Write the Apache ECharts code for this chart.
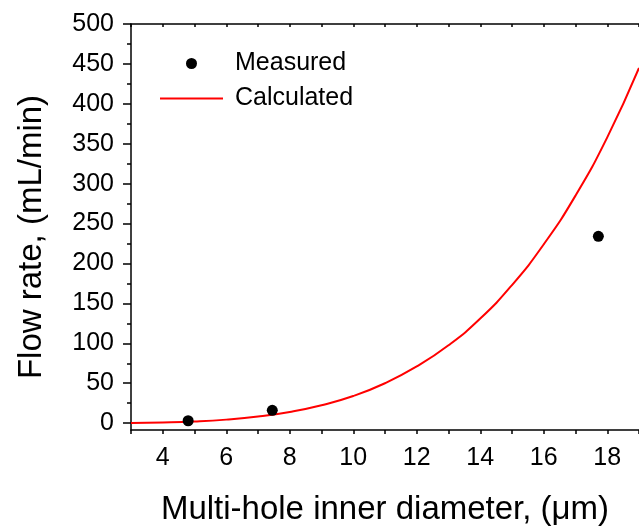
<!DOCTYPE html>
<html lang="en">
  <head>
    <meta charset="utf-8">
    <title>Flow rate vs diameter</title>
    <style>
      html, body { margin: 0; padding: 0; background: #fff; }
      #main { width: 639px; height: 531px; }
    </style>
  </head>
  <body>
    <div id="main"></div>
    <script src="https://cdn.jsdelivr.net/npm/echarts@6/dist/echarts.min.js"></script>
    <script>
      // measured points (diameter um, flow mL/min)
      var measuredX = [4.8, 7.45, 17.72];
      var measuredY = [3, 16, 234];

      // calculated curve
      var calcX = [3, 4, 5, 6, 7, 8, 9, 10, 11, 12, 13, 14, 15, 16, 17, 18, 19];
      var calcY = [0.3, 0.9, 2.1, 4.4, 8.2, 14, 22.4, 34, 50, 71, 97.5, 131, 173, 224, 285, 358, 445];

      var xLabels = [4, 6, 8, 10, 12, 14, 16, 18];
      var xTicks = [3, 4, 5, 6, 7, 8, 9, 10, 11, 12, 13, 14, 15, 16, 17, 18, 19];
      var yLabels = [0, 50, 100, 150, 200, 250, 300, 350, 400, 450, 500];
      var yMinor = [25, 75, 125, 175, 225, 275, 325, 375, 425, 475];

      var font = 'Liberation Sans, Arial, sans-serif';

      function zip(a, b) {
        return a.map(function (v, i) { return [v, b[i]]; });
      }

      var myChart = echarts.init(document.getElementById('main'));

      var option = {
        backgroundColor: '#fff',
        animation: false,
        textStyle: { fontFamily: font, color: '#000' },
        grid: { left: 131, right: 0, top: 24, bottom: 94, containLabel: false },
        legend: {
          orient: 'vertical',
          left: 160,
          top: 51,
          padding: 0,
          itemWidth: 63,
          itemHeight: 11,
          itemGap: 10,
          textStyle: { fontSize: 25, color: '#000', fontFamily: font, padding: [0, 0, 0, 7] },
          data: [
            { name: 'Measured', icon: 'circle' },
            { name: 'Calculated', icon: 'path://M0,0L63,0L63,2L0,2Z' }
          ]
        },
        xAxis: [{
          type: 'value',
          position: 'bottom',
          min: 3,
          max: 19,
          name: 'Multi-hole inner diameter, (\u03bcm)',
          nameLocation: 'middle',
          nameGap: 63,
          nameTextStyle: { fontSize: 33, color: '#000', fontFamily: font },
          axisLine: { show: true, onZero: false, lineStyle: { color: '#000', width: 1.5 } },
          axisTick: { show: true, length: 4, customValues: xTicks, lineStyle: { color: '#000', width: 1.5 } },
          axisLabel: { customValues: xLabels, fontSize: 25, color: '#000', margin: 16, fontFamily: font },
          splitLine: { show: false }
        }, {
          type: 'value',
          position: 'top',
          min: 3,
          max: 19,
          axisLine: { show: true, onZero: false, lineStyle: { color: '#000', width: 1.5 } },
          axisTick: { show: true, inside: true, length: 3, customValues: xTicks, lineStyle: { color: '#000', width: 1.5 } },
          axisLabel: { show: false },
          splitLine: { show: false }
        }],
        yAxis: [{
          type: 'value',
          min: -8.6,
          max: 500,
          name: 'Flow rate, (mL/min)',
          nameLocation: 'middle',
          nameGap: 83,
          nameTextStyle: { fontSize: 33, color: '#000', fontFamily: font, padding: [0, 20, 0, 0] },
          axisLine: { show: true, onZero: false, lineStyle: { color: '#000', width: 1.5 } },
          axisTick: { show: true, length: 8, customValues: yLabels, lineStyle: { color: '#000', width: 1.5 } },
          axisLabel: { customValues: yLabels, fontSize: 25, color: '#000', margin: 17, fontFamily: font },
          splitLine: { show: false }
        }, {
          type: 'value',
          position: 'left',
          min: -8.6,
          max: 500,
          axisLine: { show: false },
          axisTick: { show: true, length: 4, customValues: yMinor, lineStyle: { color: '#000', width: 1.5 } },
          axisLabel: { show: false },
          splitLine: { show: false }
        }],
        series: [{
          name: 'Measured',
          type: 'scatter',
          symbol: 'circle',
          symbolSize: 11,
          itemStyle: { color: '#000', opacity: 1 },
          data: zip(measuredX, measuredY),
          z: 3
        }, {
          name: 'Calculated',
          type: 'line',
          smooth: true,
          symbol: 'none',
          showSymbol: false,
          lineStyle: { color: '#ff0000', width: 2 },
          itemStyle: { color: '#ff0000' },
          data: zip(calcX, calcY),
          z: 2
        }]
      };

      myChart.setOption(option);
    </script>
  </body>
</html>
